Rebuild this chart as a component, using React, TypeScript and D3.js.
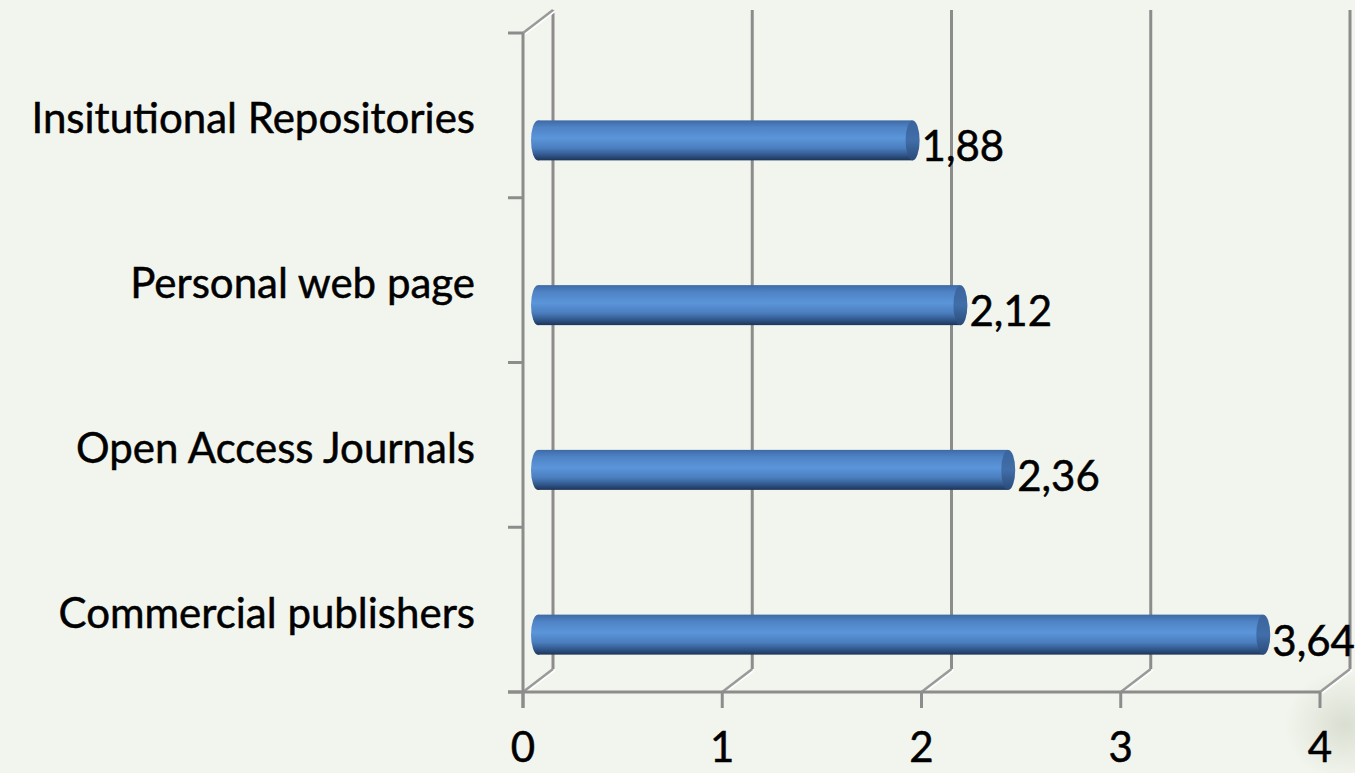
import React from "react";
import * as d3 from "d3";

// chart data
const categories = ["Insitutional Repositories", "Personal web page", "Open Access Journals", "Commercial publishers"];
const values = [1.88, 2.12, 2.36, 3.64];
const valueLabels = ["1,88", "2,12", "2,36", "3,64"];
const xTicks = [0, 1, 2, 3, 4];

const W = 1355;
const H = 773;
const FONT = "Lato, 'Open Sans', sans-serif";
const GRID = "#8c8c8c";

export default function App() {
  // front plane scales
  const x = d3.scaleLinear().domain([0, 4]).range([523, 1320]);
  const y = d3.scaleBand().domain(categories).range([33, 692]);
  const depth = { dx: 30, dy: -23 };
  const floorY = y.range()[1];
  const topY = y.range()[0];

  const barH = 40;
  const capRx = 7;
  const barOffset = 25; // bars sit a bit below the band centre
  const barX0 = x(0) + depth.dx / 2;
  const xb = (v: number) => barX0 + (x(v) - x(0));

  const bandTicks = categories.map((c) => y(c) as number).concat([floorY]);
  const textStyle = { fontFamily: FONT, fontSize: 42, fill: "#000", stroke: "#000", strokeWidth: 0.5 };

  return (
    <svg width={W} height={H} style={{ position: "absolute", left: 0, top: 0 }}>
      <defs>
        <linearGradient id="cyl" x1="0" y1="0" x2="0" y2="1">
          <stop offset="0%" stopColor="#3e6aa6" />
          <stop offset="18%" stopColor="#4f84c6" />
          <stop offset="45%" stopColor="#5b95da" />
          <stop offset="70%" stopColor="#4a7dbd" />
          <stop offset="88%" stopColor="#2f5487" />
          <stop offset="100%" stopColor="#1d3457" />
        </linearGradient>
        <linearGradient id="cap" x1="0" y1="0" x2="0" y2="1">
          <stop offset="0%" stopColor="#3a649c" />
          <stop offset="50%" stopColor="#416ea9" />
          <stop offset="100%" stopColor="#2a4a78" />
        </linearGradient>
        <radialGradient id="blob" cx="0.5" cy="0.5" r="0.5">
          <stop offset="0%" stopColor="#cfd5c6" stopOpacity={0.7} />
          <stop offset="100%" stopColor="#cfd5c6" stopOpacity={0} />
        </radialGradient>
      </defs>

      <rect width={W} height={H} fill="#f2f5ed" />
      <ellipse cx={1345} cy={725} rx={60} ry={55} fill="url(#blob)" />

      {/* back wall gridlines */}
      {xTicks.map((t) => (
        <line key={"g" + t} x1={x(t) + depth.dx} x2={x(t) + depth.dx} y1={topY + depth.dy} y2={floorY + depth.dy}
          stroke={GRID} strokeWidth={3} />
      ))}
      {/* floor diagonals */}
      {xTicks.map((t) => (
        <g key={"f" + t}>
          <line x1={x(t) + 2} y1={floorY + 1} x2={x(t) + depth.dx + 2} y2={floorY + depth.dy + 1}
            stroke="#ffffff" strokeWidth={2} />
          <line x1={x(t)} y1={floorY} x2={x(t) + depth.dx} y2={floorY + depth.dy}
            stroke="#9a9a9a" strokeWidth={2.5} />
        </g>
      ))}
      {/* top-left wall edge */}
      <line x1={x(0) + 2} y1={topY + 1} x2={x(0) + depth.dx + 2} y2={topY + depth.dy + 1} stroke="#ffffff" strokeWidth={2} />
      <line x1={x(0)} y1={topY} x2={x(0) + depth.dx} y2={topY + depth.dy} stroke="#9a9a9a" strokeWidth={2.5} />

      {/* front axes */}
      <line x1={x(0)} x2={x(0)} y1={topY} y2={floorY + 16} stroke={GRID} strokeWidth={3} />
      <line x1={x(0) - 15} x2={x(4)} y1={floorY} y2={floorY} stroke={GRID} strokeWidth={3} />
      {bandTicks.map((v, i) => (
        <line key={"yt" + i} x1={x(0) - 15} x2={x(0)} y1={v} y2={v} stroke={GRID} strokeWidth={3} />
      ))}
      {xTicks.map((t) => (
        <line key={"xt" + t} x1={x(t)} x2={x(t)} y1={floorY} y2={floorY + 16} stroke={GRID} strokeWidth={3} />
      ))}

      {/* cylinders */}
      {categories.map((c, i) => {
        const cy = (y(c) as number) + y.bandwidth() / 2 + barOffset;
        const x1 = xb(values[i]);
        return (
          <g key={c}>
            <ellipse cx={barX0} cy={cy} rx={capRx} ry={barH / 2} fill="url(#cyl)" />
            <rect x={barX0} y={cy - barH / 2} width={x1 - barX0} height={barH} fill="url(#cyl)" />
            <ellipse cx={x1} cy={cy} rx={capRx} ry={barH / 2} fill="url(#cap)" />
            <text x={x1 + capRx + 2} y={cy + 21} {...textStyle}>
              {valueLabels[i]}
            </text>
          </g>
        );
      })}

      {/* category labels */}
      {categories.map((c) => (
        <text key={"l" + c} x={475} y={(y(c) as number) + y.bandwidth() / 2 + 18} textAnchor="end" {...textStyle}>
          {c}
        </text>
      ))}

      {/* x tick labels */}
      {xTicks.map((t) => (
        <text key={"xl" + t} x={x(t)} y={762} textAnchor="middle" {...textStyle}>
          {t}
        </text>
      ))}
    </svg>
  );
}
